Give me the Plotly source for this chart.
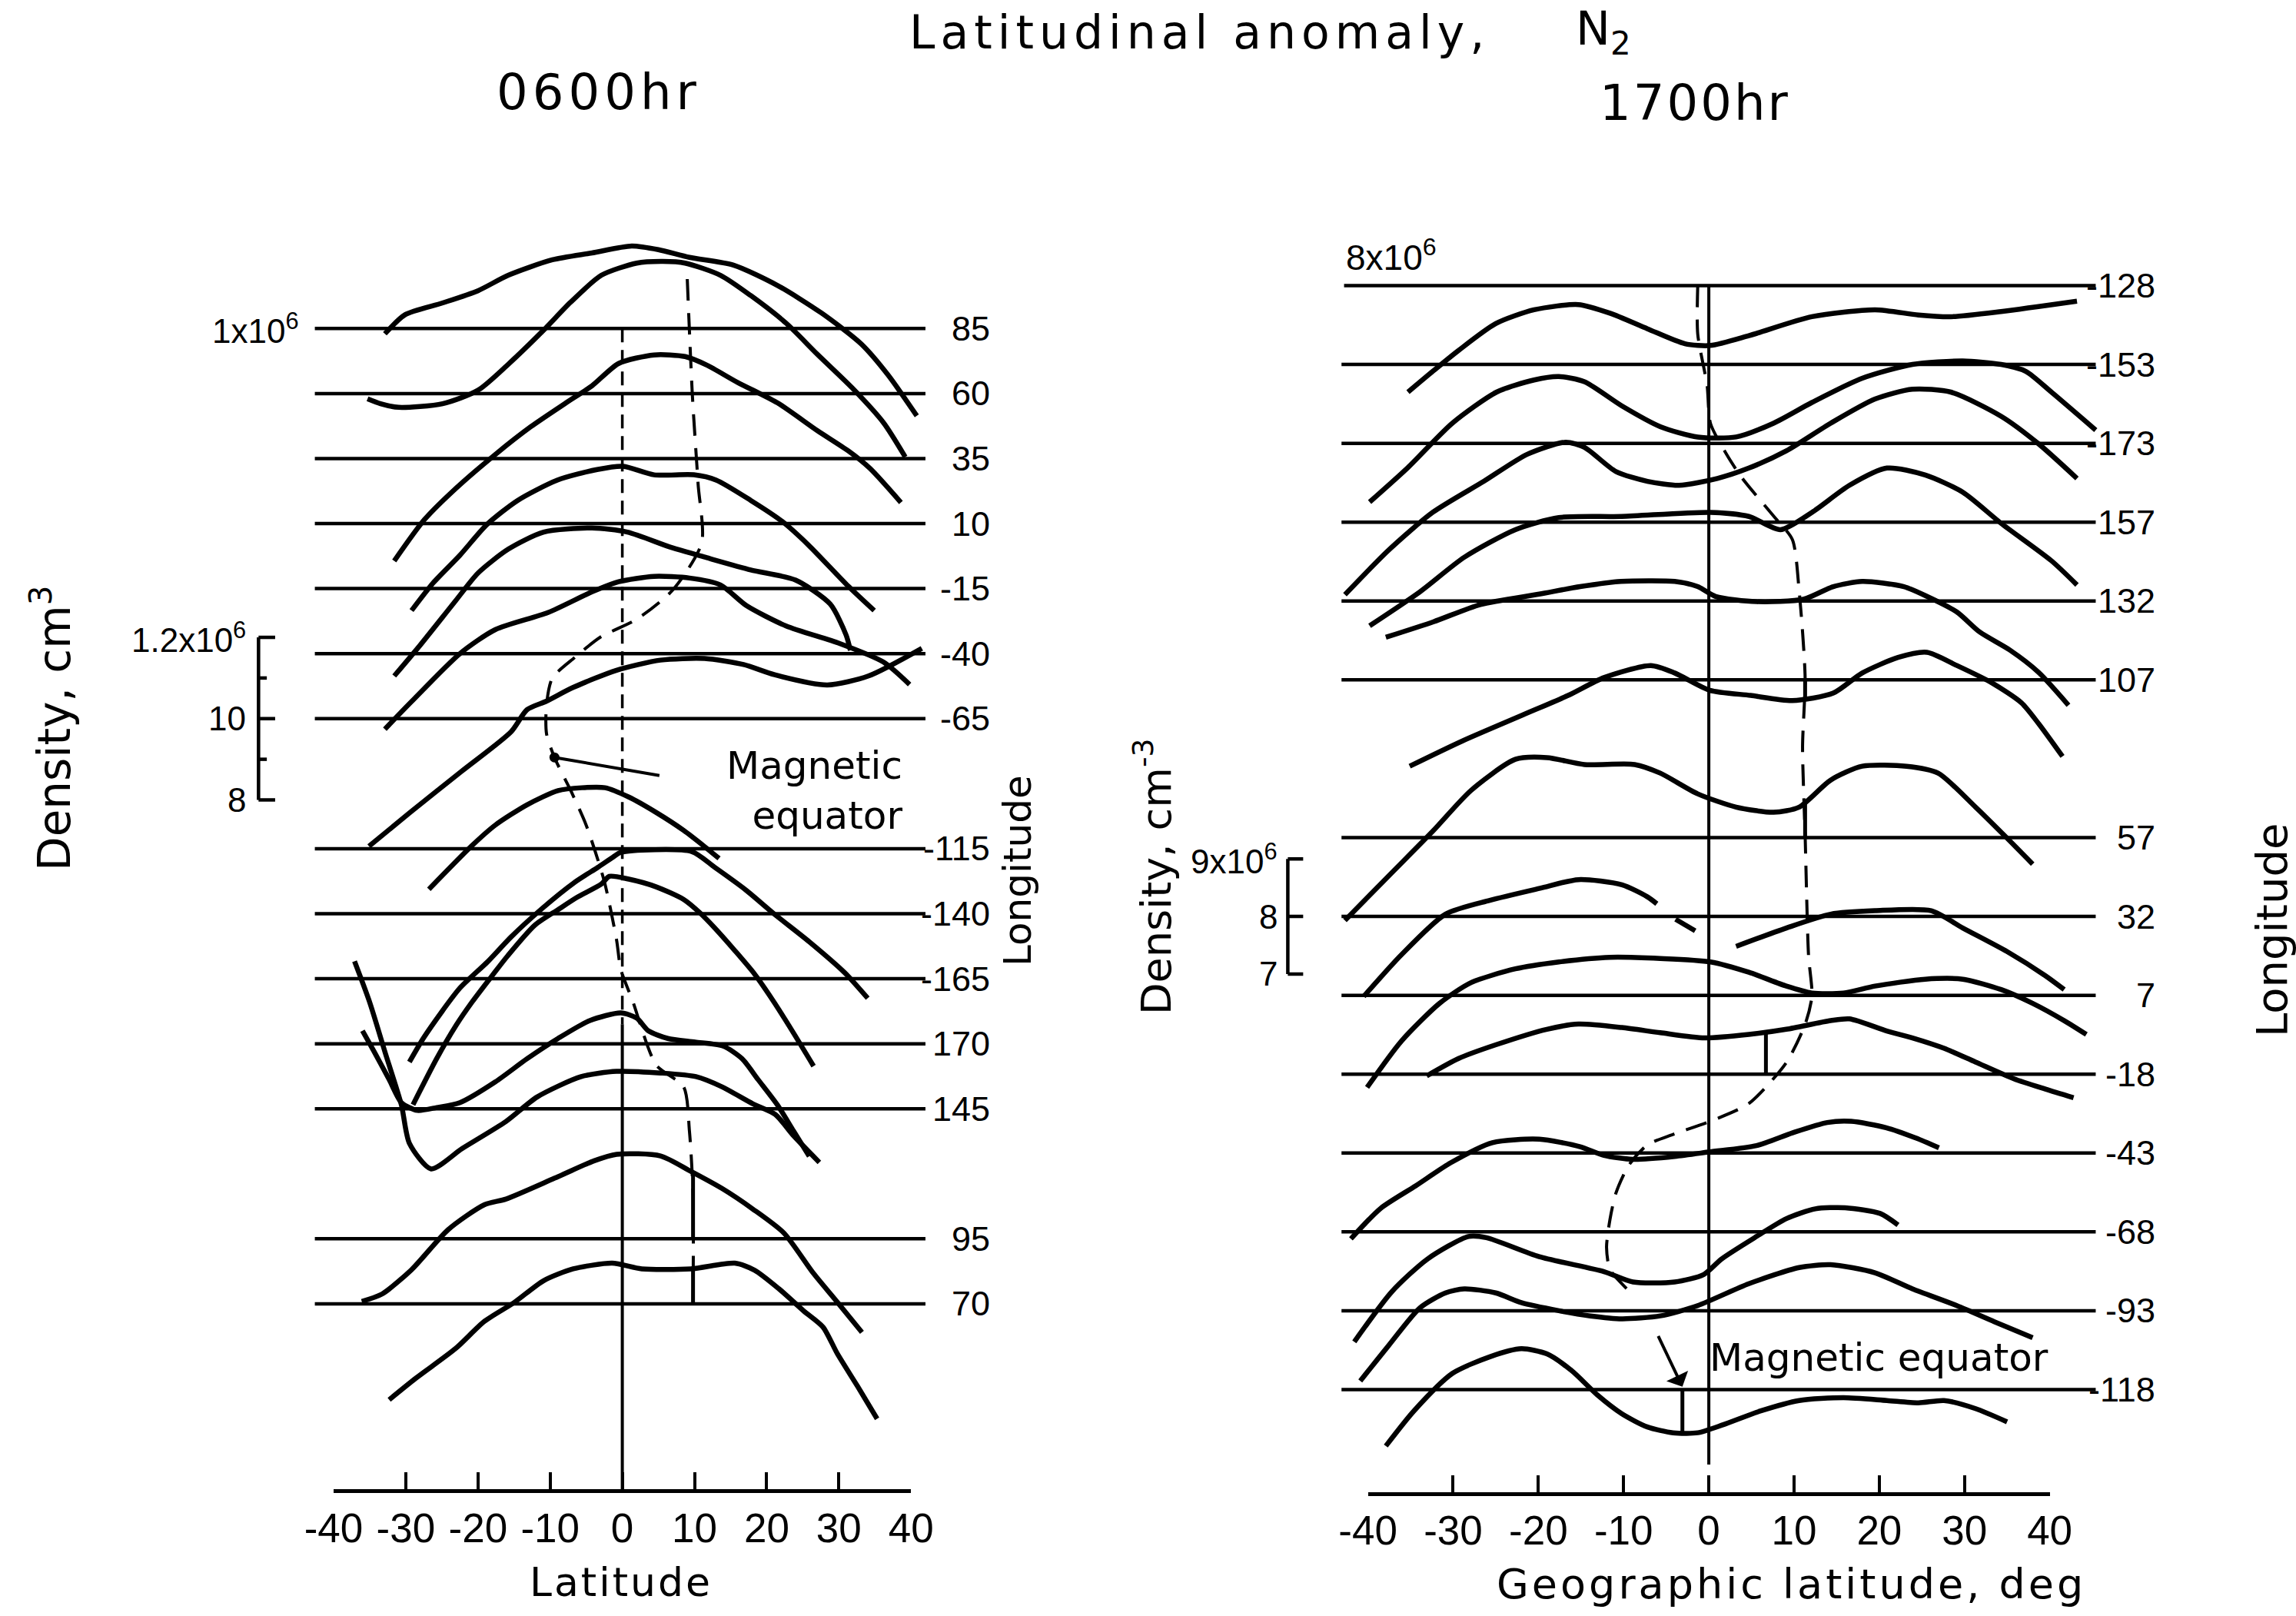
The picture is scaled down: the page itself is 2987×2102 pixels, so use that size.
import numpy as np
import plotly.graph_objects as go

W, H = 2987, 2102
FONT = "Liberation Sans Narrow, Liberation Sans, Arial, sans-serif"
TITLE_FONT = "DejaVu Sans, Liberation Sans, sans-serif"
INK = "black"

# ======================= 0600 hr panel =======================
# N2 density (x10^6 cm^-3) versus geographic latitude, one pass per longitude
LEFT_LON = [85, 60, 35, 10, -15, -40, -65, -115, -140, -165, 170, 145, 95, 70]
LEFT_REF = 1.0          # density level of every baseline (1x10^6 cm^-3)
LEFT_LON_STEP = 25.0    # longitude change between neighbouring passes

L85_LAT = [-32.9, -30.1, -24.9, -20.0, -15.8, -9.7, -4.2, 1.3, 5.0, 9.3, 15.4, 21.5, 27.6, 33.1, 36.8, 40.8]
L85_N2 = [0.987, 1.034, 1.063, 1.093, 1.131, 1.169, 1.186, 1.203, 1.194, 1.175, 1.156, 1.106, 1.038, 0.962, 0.886, 0.785]

L60_LAT = [-35.3, -33.5, -31.0, -24.9, -20.0, -15.8, -10.9, -7.2, -2.9, 2.0, 5.6, 8.7, 13.6, 17.8, 22.7, 27.0, 31.9, 36.2, 39.2]
L60_N2 = [0.987, 0.975, 0.966, 0.975, 1.008, 1.072, 1.156, 1.224, 1.291, 1.321, 1.325, 1.321, 1.291, 1.241, 1.173, 1.097, 1.013, 0.928, 0.844]

L35_LAT = [-31.6, -27.4, -23.1, -17.6, -12.7, -7.8, -4.2, -0.5, 4.4, 8.7, 11.7, 16.0, 21.5, 27.0, 31.3, 34.3, 38.6]
L35_N2 = [0.748, 0.850, 0.926, 1.010, 1.078, 1.137, 1.179, 1.234, 1.255, 1.251, 1.230, 1.187, 1.137, 1.069, 1.019, 0.976, 0.892]

L10_LAT = [-29.2, -26.2, -22.5, -18.8, -14.5, -9.0, -3.5, 0.1, 4.4, 9.9, 13.0, 17.8, 22.1, 25.8, 31.3, 34.9]
L10_N2 = [0.786, 0.854, 0.922, 0.997, 1.057, 1.107, 1.133, 1.141, 1.120, 1.120, 1.107, 1.057, 1.006, 0.947, 0.846, 0.786]

LM15_LAT = [-31.6, -28.0, -23.1, -20.0, -15.8, -10.9, -4.2, 0.7, 6.8, 11.7, 17.8, 24.0, 28.8, 31.0, 31.6]
LM15_N2 = [0.785, 0.861, 0.970, 1.038, 1.097, 1.139, 1.149, 1.139, 1.101, 1.076, 1.046, 1.021, 0.962, 0.886, 0.848]

LM40_LAT = [-32.9, -29.2, -22.5, -17.6, -10.3, -4.2, -0.5, 4.4, 9.3, 13.6, 17.2, 22.7, 30.1, 36.2, 39.8]
LM40_N2 = [0.814, 0.882, 1.000, 1.059, 1.101, 1.152, 1.177, 1.190, 1.186, 1.169, 1.118, 1.068, 1.025, 0.979, 0.924]

LM65_LAT = [-35.1, -29.4, -22.3, -15.4, -13.2, -10.5, -6.9, -0.8, 5.3, 11.4, 16.8, 21.1, 28.4, 34.1, 41.5]
LM65_N2 = [0.686, 0.769, 0.870, 0.968, 1.022, 1.043, 1.076, 1.119, 1.144, 1.148, 1.133, 1.108, 1.083, 1.105, 1.173]

LM115_LAT = [-26.8, -20.8, -17.6, -13.2, -8.9, -5.6, -2.4, 0.9, 4.7, 8.5, 11.2, 13.4]
LM115_N2 = [0.900, 1.008, 1.058, 1.108, 1.143, 1.150, 1.150, 1.127, 1.089, 1.045, 1.008, 0.976]

LM140_LAT = [-29.5, -27.4, -22.5, -18.7, -15.4, -11.1, -6.7, -3.4, -1.3, -0.2, 9.6, 12.8, 17.2, 21.0, 25.9, 30.8, 34.0]
LM140_N2 = [0.635, 0.698, 0.817, 0.881, 0.943, 1.013, 1.076, 1.114, 1.139, 1.151, 1.153, 1.114, 1.057, 1.000, 0.931, 0.855, 0.792]

LM165_LAT = [-29.0, -25.7, -23.0, -20.8, -18.1, -15.9, -12.1, -8.9, -6.2, -2.9, -1.8, 0.9, 4.7, 8.5, 10.7, 12.8, 15.6, 18.3, 21.0, 23.7, 26.5]
LM165_N2 = [0.690, 0.804, 0.886, 0.943, 1.006, 1.056, 1.132, 1.170, 1.201, 1.233, 1.252, 1.245, 1.226, 1.195, 1.163, 1.125, 1.069, 1.012, 0.943, 0.867, 0.785]

L170_LAT = [-36.0, -34.4, -32.3, -30.6, -28.4, -25.7, -22.5, -17.6, -13.2, -8.9, -4.5, -0.2, 2.0, 3.6, 6.3, 10.1, 14.0, 16.6, 18.8, 21.5, 23.7, 25.9]
L170_N2 = [1.032, 0.981, 0.912, 0.855, 0.836, 0.843, 0.855, 0.906, 0.963, 1.013, 1.057, 1.076, 1.063, 1.032, 1.013, 1.004, 0.994, 0.963, 0.912, 0.849, 0.786, 0.723]

L145_LAT = [-37.1, -35.0, -32.8, -30.6, -29.5, -26.5, -22.2, -16.1, -11.8, -5.7, -0.8, 5.3, 10.2, 13.8, 18.1, 21.2, 23.6, 27.3]
L145_N2 = [1.363, 1.262, 1.135, 1.009, 0.915, 0.852, 0.902, 0.969, 1.029, 1.079, 1.092, 1.088, 1.079, 1.054, 1.012, 0.986, 0.936, 0.868]

L95_LAT = [-36.1, -33.3, -29.2, -24.1, -19.1, -16.1, -9.4, -3.9, -0.8, 5.3, 9.5, 13.8, 18.1, 22.4, 26.4, 29.8, 33.2]
L95_N2 = [0.846, 0.864, 0.924, 1.023, 1.084, 1.098, 1.149, 1.192, 1.208, 1.204, 1.166, 1.124, 1.073, 1.014, 0.917, 0.844, 0.770]

L70_LAT = [-32.3, -28.6, -23.1, -19.1, -15.0, -10.9, -6.8, -1.4, 2.7, 9.5, 15.6, 18.3, 21.7, 25.1, 27.8, 29.8, 32.6, 35.3]
L70_N2 = [0.764, 0.817, 0.890, 0.957, 1.003, 1.057, 1.086, 1.100, 1.086, 1.086, 1.100, 1.083, 1.037, 0.983, 0.943, 0.877, 0.797, 0.717]

LEFT_PROFILES = [
    (L85_LAT, L85_N2), (L60_LAT, L60_N2), (L35_LAT, L35_N2), (L10_LAT, L10_N2),
    (LM15_LAT, LM15_N2), (LM40_LAT, LM40_N2), (LM65_LAT, LM65_N2), (LM115_LAT, LM115_N2),
    (LM140_LAT, LM140_N2), (LM165_LAT, LM165_N2), (L170_LAT, L170_N2), (L145_LAT, L145_N2),
    (L95_LAT, L95_N2), (L70_LAT, L70_N2),
]

# magnetic equator (geographic latitude at each longitude) for the 0600 hr set
MAGEQ_L_LAT = [9.0, 9.7, 10.5, 11.0, 7.0, 2.0, -3.0, -6.6, -9.7, -10.5, -10.5, -9.4, -7.0, -5.0, -2.5,
               -0.8, -0.2, 1.4, 4.7, 8.5, 9.3, 9.8, 9.8]
MAGEQ_L_LON = [104, 59.7, 25.2, 2.6, -15.5, -26.8, -33.6, -41.5, -49.4, -59.6, -70.8, -79.9, -93.5, -106,
               -127.5, -150, -161.5, -173.3, 161.8, 153.4, 136.4, 112.1, 70.7]
MARK_L_LON = [95, 70]
MARK_L_LAT = [9.8, 9.8]

LEFT_SCALE_VALS = [0.8, 1.0, 1.2]
LEFT_SCALE_MINOR = [0.9, 1.1]
LEFT_SCALE_TEXT = ["8", "10", "1.2x10<sup>6</sup>"]
LEFT_SCALE_LON = -65

# ======================= 1700 hr panel =======================
RIGHT_LON = [-128, -153, -173, 157, 132, 107, 57, 32, 7, -18, -43, -68, -93, -118]
RIGHT_REF = 8.0         # density level of every baseline (8x10^6 cm^-3)

RM128_LAT = [-35.3, -32.4, -29.4, -25.0, -20.5, -15.3, -11.6, -7.2, -2.8, 0.2, 4.7, 12.1, 19.5, 24.6, 28.4, 34.3, 43.2]
RM128_N2 = [6.15, 6.51, 6.87, 7.34, 7.58, 7.67, 7.52, 7.25, 6.99, 6.96, 7.13, 7.46, 7.58, 7.49, 7.46, 7.55, 7.73]

RM153_LAT = [-39.8, -35.3, -30.1, -24.9, -20.5, -17.6, -14.6, -10.2, -5.7, -1.3, 3.2, 7.6, 12.1, 18.0, 23.9, 29.8, 34.3, 37.2, 40.2, 45.4]
RM153_N2 = [5.61, 6.21, 6.98, 7.52, 7.73, 7.79, 7.70, 7.28, 6.92, 6.74, 6.74, 6.98, 7.34, 7.76, 8.00, 8.06, 8.00, 7.88, 7.52, 6.86]

RM173_LAT = [-42.7, -37.6, -32.4, -26.4, -21.3, -16.8, -14.6, -10.9, -7.2, -3.5, 1.0, 4.7, 9.1, 14.3, 19.5, 23.9, 28.4, 34.3, 38.7, 43.2]
RM173_N2 = [5.37, 6.14, 6.80, 7.34, 7.81, 8.02, 7.93, 7.51, 7.34, 7.27, 7.39, 7.57, 7.87, 8.35, 8.77, 8.94, 8.89, 8.47, 7.99, 7.39]

R157_LAT = [-39.8, -33.9, -28.7, -22.7, -17.6, -10.2, 0.2, 4.7, 8.4, 12.1, 16.5, 20.9, 25.4, 29.8, 34.3, 40.2, 43.2]
R157_N2 = [6.20, 6.79, 7.39, 7.87, 8.08, 8.10, 8.17, 8.10, 7.87, 8.17, 8.64, 8.94, 8.82, 8.52, 7.98, 7.33, 6.91]

R132_LAT = [-37.9, -32.3, -26.8, -19.9, -15.1, -10.3, -4.0, -1.3, 0.8, 5.6, 11.1, 14.6, 18.0, 22.9, 25.6, 29.1, 31.8, 35.3, 38.7, 42.2]
R132_N2 = [7.37, 7.64, 7.94, 8.12, 8.25, 8.34, 8.34, 8.25, 8.08, 7.99, 8.03, 8.25, 8.34, 8.25, 8.08, 7.81, 7.46, 7.15, 6.76, 6.19]

R107_LAT = [-35.1, -28.9, -22.0, -16.5, -12.3, -6.8, -4.0, 0.1, 4.9, 9.8, 14.6, 18.0, 22.2, 25.6, 29.1, 33.2, 36.7, 38.7, 41.5]
R107_N2 = [6.50, 6.94, 7.38, 7.73, 8.04, 8.25, 8.12, 7.82, 7.73, 7.64, 7.77, 8.12, 8.39, 8.48, 8.25, 7.95, 7.60, 7.24, 6.67]

R57_LAT = [-42.7, -37.6, -32.4, -27.9, -22.7, -19.0, -14.6, -8.7, -5.7, -1.3, 3.2, 7.6, 10.6, 14.3, 18.0, 23.2, 26.9, 31.3, 35.0, 38.0]
R57_N2 = [6.56, 7.33, 8.11, 8.82, 9.36, 9.39, 9.27, 9.27, 9.12, 8.76, 8.53, 8.44, 8.53, 9.00, 9.24, 9.24, 9.12, 8.53, 7.99, 7.54]

R32_LAT = [-40.5, -36.1, -30.9, -25.7, -19.8, -15.3, -10.2, -7.2, -6.1, None, -3.9, -1.6, None, 3.2, 9.1, 14.3, 19.5, 26.1, 29.8, 35.0, 39.5, 41.7]
R32_N2 = [6.61, 7.33, 8.04, 8.28, 8.49, 8.64, 8.55, 8.34, 8.22, None, 7.95, 7.75, None, 7.48, 7.80, 8.04, 8.10, 8.10, 7.80, 7.39, 6.97, 6.73]

R7_LAT = [-40.1, -36.1, -31.6, -27.9, -22.7, -17.6, -11.6, -5.7, 0.2, 4.7, 9.1, 12.1, 15.8, 19.5, 25.4, 29.8, 34.3, 38.0, 41.7, 44.3]
R7_N2 = [6.40, 7.20, 7.86, 8.22, 8.46, 8.58, 8.66, 8.64, 8.58, 8.40, 8.16, 8.04, 8.04, 8.16, 8.28, 8.28, 8.10, 7.86, 7.56, 7.32]

RM18_LAT = [-33.1, -29.4, -25.0, -19.0, -15.3, -10.2, -5.7, -0.5, 4.7, 9.1, 14.3, 16.5, 20.9, 23.9, 27.6, 31.3, 35.8, 39.5, 42.8]
RM18_N2 = [7.97, 8.27, 8.51, 8.78, 8.87, 8.81, 8.72, 8.63, 8.69, 8.78, 8.93, 8.96, 8.75, 8.63, 8.45, 8.21, 7.92, 7.74, 7.59]

RM43_LAT = [-42.0, -38.5, -34.4, -30.3, -25.4, -19.9, -15.1, -12.3, -8.9, -4.0, 0.1, 5.6, 9.8, 13.9, 16.7, 20.8, 24.3, 27.0]
RM43_N2 = [6.51, 7.04, 7.43, 7.83, 8.18, 8.24, 8.11, 7.96, 7.89, 7.94, 8.02, 8.13, 8.35, 8.53, 8.55, 8.44, 8.26, 8.09]

RM68_LAT = [-41.6, -37.2, -33.0, -28.2, -26.1, -19.9, -12.3, -8.9, -4.0, -0.6, 1.5, 5.6, 9.1, 12.5, 16.0, 20.1, 22.2]
RM68_N2 = [6.09, 6.96, 7.53, 7.92, 7.90, 7.57, 7.31, 7.13, 7.13, 7.26, 7.53, 7.92, 8.23, 8.40, 8.42, 8.32, 8.12]

RM93_LAT = [-40.9, -37.6, -33.9, -30.9, -28.7, -25.0, -22.0, -17.6, -13.9, -10.2, -5.7, -1.3, 4.7, 10.6, 14.3, 19.5, 23.9, 29.1, 33.5, 38.0]
RM93_N2 = [6.78, 7.39, 8.05, 8.31, 8.38, 8.31, 8.14, 8.00, 7.91, 7.86, 7.91, 8.09, 8.47, 8.75, 8.80, 8.66, 8.38, 8.09, 7.81, 7.53]

RM118_LAT = [-37.9, -34.6, -30.1, -25.7, -22.0, -19.0, -16.1, -13.1, -10.2, -7.2, -4.2, -1.3, 1.7, 6.1, 10.6, 15.8, 20.9, 24.6, 27.6, 31.3, 35.0]
RM118_N2 = [7.02, 7.63, 8.28, 8.57, 8.71, 8.62, 8.33, 7.91, 7.58, 7.35, 7.25, 7.25, 7.39, 7.63, 7.81, 7.86, 7.81, 7.77, 7.81, 7.67, 7.44]

RIGHT_PROFILES = [
    (RM128_LAT, RM128_N2), (RM153_LAT, RM153_N2), (RM173_LAT, RM173_N2), (R157_LAT, R157_N2),
    (R132_LAT, R132_N2), (R107_LAT, R107_N2), (R57_LAT, R57_N2), (R32_LAT, R32_N2),
    (R7_LAT, R7_N2), (RM18_LAT, RM18_N2), (RM43_LAT, RM43_N2), (RM68_LAT, RM68_N2),
    (RM93_LAT, RM93_N2), (RM118_LAT, RM118_N2),
]

MAGEQ_R_LAT = [-1.3, -1.3, -0.2, 0.2, 2.1, 3.9, 7.6, 9.8, 10.6, 11.3, 11.0, 11.3, 11.7, 12.1, 11.3, 9.1,
               4.7, 0.2, -4.2, -7.2, -9.4, -10.9, -11.6, -12.0, -11.6, -9.5, -8.7]
MAGEQ_R_LON = [-128, -143.4, -158.3, -168, -177.3, 173.8, 159.3, 151.5, 135.2, 107.7, 85.8, 57.9, 19.7, 6.7,
               -2.2, -14.3, -27.3, -32.9, -37.1, -40.4, -46.9, -55.7, -64.1, -72.9, -79.9, -86.4, -88.8]
MARK_R_LON = [107, 57, -18, -118]
MARK_R_LAT = [11.3, 11.3, 6.7, -3.1]

RIGHT_SCALE_VALS = [7.0, 8.0, 9.0]
RIGHT_SCALE_TEXT = ["7", "8", "9x10<sup>6</sup>"]
RIGHT_SCALE_LON = 32

LAT_TICKS = [-40, -30, -20, -10, 0, 10, 20, 30, 40]
LAT_TICKTEXT = ["-40", "-30", "-20", "-10", "0", "10", "20", "30", "40"]

# ======================= layout geometry (page pixels) =======================
GL = dict(x0=809.6, kx=9.39, y0=427.3, ky=528.6, step=0.16, xr=(-86, 46), yr=(-2.95, 0.25),
          base=(-42.6, 42.0), axis_px=1937.0, tick_px=(434.0, 1185.2))
GR = dict(x0=2223.1, kx=11.087, y0=371.5, ky=74.87, step=1.37, xr=(-52, 47), yr=(-21.5, 1.0),
          base=(-43.1, 45.4), axis_px=1940.6, tick_px=(1779.6, 2666.6))
RIGHT_SLOT = [0, 1, 2, 3, 4, 5, 7, 8, 9, 10, 11, 12, 13, 14]
SMOOTH = 0.7


def xdomain(g):
    return [(g["x0"] + g["kx"] * g["xr"][0]) / W, (g["x0"] + g["kx"] * g["xr"][1]) / W]


def ydomain(g):
    return [1 - (g["y0"] - g["ky"] * g["yr"][0]) / H, 1 - (g["y0"] - g["ky"] * g["yr"][1]) / H]


def fx(px):
    return px / W


def fy(py):
    return 1 - py / H


def xpix(g, lat):
    return g["x0"] + g["kx"] * lat


def pix_to_level(g, py):
    return (g["y0"] - py) / g["ky"]


left_u = np.unwrap(np.array(LEFT_LON, float), period=360)
LEFT_SLOT = list((LEFT_LON[0] - left_u) / LEFT_LON_STEP)
right_u = np.unwrap(np.array(RIGHT_LON, float), period=360)


def left_slot_of(lons):
    u = np.unwrap(np.array(lons, float), period=360)
    return (LEFT_LON[0] - u) / LEFT_LON_STEP


def right_slot_of(lons):
    u = np.unwrap(np.array(lons, float), period=360)
    return np.interp(-u, -right_u, RIGHT_SLOT)


def level(g, slot, n2, ref):
    return (n2 - ref) - g["step"] * slot


fig = go.Figure()


def add_line(x, y, xa, ya, width, dash="solid", smooth=False):
    line = dict(color=INK, width=width, dash=dash)
    if smooth:
        line.update(shape="spline", smoothing=SMOOTH)
    fig.add_trace(go.Scatter(x=x, y=y, mode="lines", xaxis=xa, yaxis=ya, line=line,
                             hoverinfo="skip", showlegend=False, connectgaps=False))


def add_panel(g, lons, slots, profiles, ref, xa, ya, top_base_start=None):
    for i, (lon, s) in enumerate(zip(lons, slots)):
        yb = -g["step"] * s
        x_start = g["base"][0] if (i > 0 or top_base_start is None) else top_base_start
        add_line([x_start, g["base"][1]], [yb, yb], xa, ya, 4.5)
    for (lat, n2), s in zip(profiles, slots):
        yy = [None if v is None else level(g, s, v, ref) for v in n2]
        add_line(lat, yy, xa, ya, 6.5, smooth=True)


add_panel(GL, LEFT_LON, LEFT_SLOT, LEFT_PROFILES, LEFT_REF, "x", "y")
add_panel(GR, RIGHT_LON, RIGHT_SLOT, RIGHT_PROFILES, RIGHT_REF, "x2", "y2", top_base_start=-42.8)

# zero-latitude reference lines
yl_axis = pix_to_level(GL, GL["axis_px"])
yl_break = -GL["step"] * 10.7
add_line([0, 0], [0, yl_break], "x", "y", 3.5, dash="18px,10px")
add_line([0, 0], [yl_break, yl_axis], "x", "y", 4)
add_line([0, 0], [0, pix_to_level(GR, 1905)], "x2", "y2", 4)

# magnetic equator (dashed)
ml = left_slot_of(MAGEQ_L_LON)
add_line(MAGEQ_L_LAT, list(-GL["step"] * ml), "x", "y", 4, dash="28px,16px", smooth=True)
mr = right_slot_of(MAGEQ_R_LON)
add_line(MAGEQ_R_LAT, list(-GR["step"] * mr), "x2", "y2", 4, dash="28px,16px", smooth=True)


def add_marks(g, lons, slots, profiles, ref, mark_lon, mark_lat, xa, ya):
    for lon, mlat in zip(mark_lon, mark_lat):
        i = lons.index(lon)
        lat, n2 = profiles[i]
        la = np.array([np.nan if v is None else v for v in lat], float)
        nv = np.array([np.nan if v is None else v for v in n2], float)
        ok = ~np.isnan(la)
        val = float(np.interp(mlat, la[ok], nv[ok]))
        add_line([mlat, mlat], [-g["step"] * slots[i], level(g, slots[i], val, ref)], xa, ya, 5)


add_marks(GL, LEFT_LON, LEFT_SLOT, LEFT_PROFILES, LEFT_REF, MARK_L_LON, MARK_L_LAT, "x", "y")
add_marks(GR, RIGHT_LON, RIGHT_SLOT, RIGHT_PROFILES, RIGHT_REF, MARK_R_LON, MARK_R_LAT, "x2", "y2")


def add_scale(g, slot, vals, minor, ref, xbar, tick, xa, ya):
    xs, ys = [], []
    lo, hi = level(g, slot, min(vals), ref), level(g, slot, max(vals), ref)
    xs += [xbar, xbar, None]
    ys += [lo, hi, None]
    for v in vals:
        yv = level(g, slot, v, ref)
        xs += [xbar, xbar + tick, None]
        ys += [yv, yv, None]
    for v in minor:
        yv = level(g, slot, v, ref)
        xs += [xbar, xbar + tick * 0.5, None]
        ys += [yv, yv, None]
    add_line(xs, ys, xa, ya, 4.5)


sl_left = LEFT_SLOT[LEFT_LON.index(LEFT_SCALE_LON)]
sl_right = RIGHT_SLOT[RIGHT_LON.index(RIGHT_SCALE_LON)]
add_scale(GL, sl_left, LEFT_SCALE_VALS, LEFT_SCALE_MINOR, LEFT_REF, -50.4, 2.3, "x", "y")
add_scale(GR, sl_right, RIGHT_SCALE_VALS, [], RIGHT_SCALE_VALS[1], -49.4, 1.8, "x2", "y2")

i_ptr = MAGEQ_L_LON.index(-79.9)
y_ptr = float(-GL["step"] * ml[i_ptr])
fig.add_trace(go.Scatter(x=[MAGEQ_L_LAT[i_ptr]], y=[y_ptr], mode="markers", xaxis="x", yaxis="y",
                         marker=dict(color=INK, size=13), hoverinfo="skip", showlegend=False))

for xa, ya in (("x3", "y3"), ("x4", "y4")):
    fig.add_trace(go.Scatter(x=[-40, 40], y=[0.5, 0.5], mode="markers", xaxis=xa, yaxis=ya,
                             marker=dict(opacity=0), hoverinfo="skip", showlegend=False))

ann = []


def spaced(s, px):
    return '<span style="letter-spacing:%dpx">%s</span>' % (px, s)


def text(x, y, s, size, xanchor="center", yanchor="middle", xref="paper", yref="paper", angle=0,
         align="center", family=FONT):
    ann.append(dict(x=x, y=y, xref=xref, yref=yref, text=s, showarrow=False, xanchor=xanchor,
                    yanchor=yanchor, textangle=angle, align=align,
                    font=dict(family=family, size=size, color=INK)))


LABEL_SIZE = 45
for lon, s in zip(LEFT_LON, LEFT_SLOT):
    text(fx(1290), -GL["step"] * s, str(lon), LABEL_SIZE, xanchor="right", yref="y")
for lon, s in zip(RIGHT_LON, RIGHT_SLOT):
    text(fx(2806), -GR["step"] * s, str(lon), LABEL_SIZE, xanchor="right", yref="y2")

text(fx(xpix(GL, -44.6)), 0.0, "1x10<sup>6</sup>", 44, xanchor="right", yref="y")
text(fx(xpix(GR, -42.8)), 0.12, "8x10<sup>6</sup>", 46, xanchor="left", yanchor="bottom", yref="y2")

for v, s in zip(LEFT_SCALE_VALS, LEFT_SCALE_TEXT):
    text(fx(322), level(GL, sl_left, v, LEFT_REF), s, 44, xanchor="right", yref="y")
for v, s in zip(RIGHT_SCALE_VALS, RIGHT_SCALE_TEXT):
    text(fx(1664), level(GR, sl_right, v, RIGHT_SCALE_VALS[1]), s, 44, xanchor="right", yref="y2")

text(fx(1181), fy(42), spaced("Latitudinal anomaly,", 7), 60, xanchor="left", family=TITLE_FONT)
text(fx(2048), fy(42), "N<sub>2</sub>", 60, xanchor="left", family=TITLE_FONT)
text(fx(779), fy(120), spaced("0600hr", 6), 64, family=TITLE_FONT)
text(fx(2205), fy(134), spaced("1700hr", 3), 64, family=TITLE_FONT)

text(fx(808), fy(2058), spaced("Latitude", 3), 52, family=TITLE_FONT)
text(fx(2330), fy(2060), spaced("Geographic latitude, deg", 4), 54, family=TITLE_FONT)
text(fx(67), fy(947), "Density, cm<sup>3</sup>", 58, angle=-90, family=TITLE_FONT)
text(fx(1324), fy(1133), "Longitude", 50, angle=-90, family=TITLE_FONT)
text(fx(1500), fy(1140), "Density, cm<sup>-3</sup>", 54, angle=-90, family=TITLE_FONT)
text(fx(2955), fy(1210), "Longitude", 56, angle=-90, family=TITLE_FONT)

text(fx(1176), fy(1028), "Magnetic<br>equator", 50, xanchor="right", align="right", family=TITLE_FONT)
text(fx(2222), fy(1766), "Magnetic equator", 50, xanchor="left", family=TITLE_FONT)
ann.append(dict(x=MAGEQ_L_LAT[i_ptr], y=y_ptr, ax=5.3, ay=y_ptr - 0.045, xref="x", yref="y",
                axref="x", ayref="y", text="", showarrow=True, arrowhead=0, arrowwidth=4,
                arrowcolor=INK))
i118 = RIGHT_LON.index(-118)
y118 = -GR["step"] * RIGHT_SLOT[i118]
ann.append(dict(x=MARK_R_LAT[MARK_R_LON.index(-118)], y=y118 + 0.05, ax=-6.0, ay=y118 + 0.95,
                xref="x2", yref="y2", axref="x2", ayref="y2", text="", showarrow=True,
                arrowhead=1, arrowsize=1.3, arrowwidth=4, arrowcolor=INK))

axis_common = dict(showgrid=False, zeroline=False, fixedrange=True, automargin=False)
vis_x = dict(showline=True, linecolor=INK, linewidth=5, ticks="inside", ticklen=22, tickwidth=4,
             tickcolor=INK, tickmode="array", tickvals=LAT_TICKS, ticktext=LAT_TICKTEXT,
             tickfont=dict(family=FONT, size=53, color=INK), range=[-40, 40],
             ticklabelstandoff=0, showgrid=False, zeroline=False, fixedrange=True, automargin=False)


def strip(py):
    b = 1 - py / H
    return [b, b + 0.02]


fig.update_layout(
    template="none",
    width=W, height=H, autosize=False,
    margin=dict(l=0, r=0, t=0, b=0, pad=0, autoexpand=False),
    paper_bgcolor="white", plot_bgcolor="rgba(0,0,0,0)", showlegend=False,
    xaxis=dict(domain=xdomain(GL), range=list(GL["xr"]), visible=False, anchor="y", **axis_common),
    yaxis=dict(domain=ydomain(GL), range=list(GL["yr"]), visible=False, anchor="x", **axis_common),
    xaxis2=dict(domain=xdomain(GR), range=list(GR["xr"]), visible=False, anchor="y2", **axis_common),
    yaxis2=dict(domain=ydomain(GR), range=list(GR["yr"]), visible=False, anchor="x2", **axis_common),
    xaxis3=dict(domain=[fx(GL["tick_px"][0]), fx(GL["tick_px"][1])], anchor="y3", **vis_x),
    yaxis3=dict(domain=strip(GL["axis_px"]), range=[0, 1], visible=False, anchor="x3", **axis_common),
    xaxis4=dict(domain=[fx(GR["tick_px"][0]), fx(GR["tick_px"][1])], anchor="y4", **vis_x),
    yaxis4=dict(domain=strip(GR["axis_px"]), range=[0, 1], visible=False, anchor="x4", **axis_common),
    annotations=ann,
)

fig.write_html("out.html", config={"displayModeBar": False},
               post_script="document.body.style.margin='0';document.body.style.overflow='hidden';")
